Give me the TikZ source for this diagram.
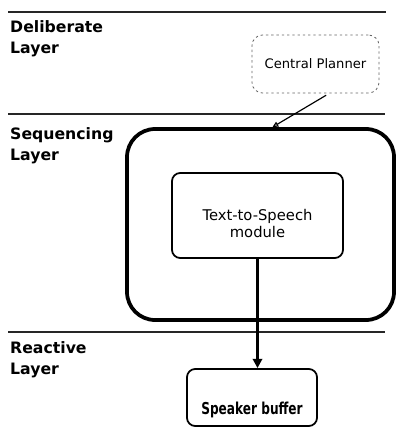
\documentclass[tikz,border=0pt]{standalone}
\usepackage{fontspec}
\setmainfont{DejaVu Sans}
\newfontfamily\estrecha[FakeStretch=0.74]{DejaVu Sans}
\usetikzlibrary{arrows.meta}

\begin{document}
\begin{tikzpicture}[x=0.03cm, y=-0.03cm,
    capa/.style={line width=1.2pt, black!85},
    etiqueta/.style={anchor=north west, inner sep=0pt, align=left,
      font=\bfseries\fontsize{13.4}{18}\selectfont},
    caja/.style={draw, rounded corners=7pt, line width=1.5pt, inner sep=0pt, align=center},
    flecha/.style={-{Triangle[length=8pt, width=8pt]}, line width=2pt}]
    \clip (0,0) rectangle (397,428);
    % lineas entre capas
    \draw[capa] (8,12) -- (386,12);
    \draw[capa] (8,114) -- (385,114);
    \draw[capa] (8,332) -- (385,332);
    % nombres de las capas
    \node[etiqueta] (delib) at (10,20) {Deliberate\\Layer};
    \node[etiqueta] (secu) at (10,127.5) {Sequencing\\Layer};
    \node[etiqueta] (reac) at (10,341) {Reactive\\Layer};
    % planificador central, borde punteado
    \node[caja, draw=black!60, dash pattern=on 2pt off 2.5pt, line width=0.7pt,
      rounded corners=9pt, minimum width=3.81cm, minimum height=1.74cm,
      font=\fontsize{11.2}{13}\selectfont] (plan) at (315.5,64) {Central Planner};
    % caja grande de la capa de secuencia
    \node[caja, line width=3.2pt, rounded corners=24pt,
      minimum width=8.01cm, minimum height=5.73cm] (seq) at (260.5,224.5) {};
    % modulo de texto a voz
    \node[caja, anchor=base, text height=1.41cm, text depth=1.14cm, text width=5.13cm,
      font=\fontsize{12.6}{15.3}\selectfont] (tts) at (257.5,220) {Text-to-Speech\\module};
    % buffer del altavoz
    \node[caja, anchor=base, text height=1.35cm, text depth=0.36cm, minimum width=3.9cm,
      font=\estrecha\bfseries\fontsize{14}{16}\selectfont] (spk) at (252,414) {Speaker buffer};
    % flechas
    \draw[-{Triangle[open, length=5pt, width=4.5pt]}, line width=1pt, shorten <=3pt]
      (plan.-65) -- (seq.83);
    \draw[flecha] (tts.south) -- (tts.south |- spk.north);
\end{tikzpicture}
\end{document}
